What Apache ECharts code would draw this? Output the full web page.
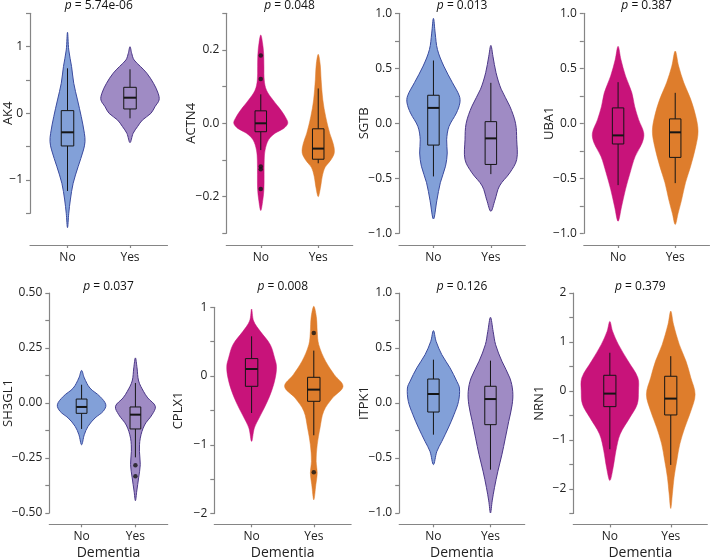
<!DOCTYPE html>
<html><head><meta charset="utf-8">
<script src="https://cdn.jsdelivr.net/npm/echarts@6/dist/echarts.min.js"></script>
<style>html,body{margin:0;padding:0;background:#fff}#c{width:712px;height:558px}</style>
</head><body><div id="c"></div>
<script>
// ---------------- DATA ----------------
const groups = ['No', 'Yes'];
const genes = ['AK4', 'ACTN4', 'SGTB', 'UBA1', 'SH3GL1', 'CPLX1', 'ITPK1', 'NRN1'];
const pValues = ['5.74e-06', '0.048', '0.013', '0.387', '0.037', '0.008', '0.126', '0.379'];
const xTitle = 'Dementia';

// y-axis ranges / ticks: [min, max, tick step, label step, decimals]
const yTicks = [
  [-1.5, 1.5, 0.5, 1, 0],
  [-0.3, 0.3, 0.1, 0.2, 1],
  [-1, 1, 0.25, 0.5, 1],
  [-1, 1, 0.25, 0.5, 1],
  [-0.5, 0.5, 0.125, 0.25, 2],
  [-2, 1, 0.5, 1, 0],
  [-1, 1, 0.25, 0.5, 1],
  [-2.5, 2, 0.5, 1, 0]
];

// box stats: [lower whisker, Q1, median, Q3, upper whisker]
const boxNo = [
  [-1.165, -0.49, -0.285, 0.04, 0.675],
  [-0.073, -0.023, 0.0, 0.034, 0.079],
  [-0.483, -0.198, 0.14, 0.255, 0.571],
  [-0.562, -0.188, -0.11, 0.14, 0.374],
  [-0.118, -0.047, -0.018, 0.018, 0.083],
  [-0.537, -0.149, 0.103, 0.254, 0.578],
  [-0.288, -0.082, 0.082, 0.218, 0.394],
  [-1.19, -0.32, -0.054, 0.32, 0.78]
];
const boxYes = [
  [-0.075, 0.065, 0.234, 0.39, 0.66],
  [-0.109, -0.098, -0.069, -0.015, 0.095],
  [-0.462, -0.374, -0.137, 0.015, 0.368],
  [-0.544, -0.31, -0.082, 0.04, 0.277],
  [-0.247, -0.118, -0.053, -0.018, 0.091],
  [-0.861, -0.367, -0.197, -0.018, 0.37],
  [-0.606, -0.197, 0.036, 0.152, 0.385],
  [-1.51, -0.49, -0.156, 0.3, 0.71]
];
const outliersNo = [[], [0.185, 0.121, -0.118, -0.125, -0.179], [], [], [], [], [], []];
const outliersYes = [[], [], [], [], [-0.283, -0.333], [0.627, -1.40], [], []];

// violin density profiles: [value, half width (in group units)]
const violinNoAK4 = [[1.215,0],[0.95,0.02],[0.7,0.065],[0.45,0.10],[0.2,0.16],[-0.05,0.22],[-0.3,0.27],[-0.425,0.28],[-0.55,0.255],[-0.8,0.17],[-1.05,0.09],[-1.3,0.045],[-1.5,0.02],[-1.715,0]];
const violinYesAK4 = [[1.0,0],[0.9,0.027],[0.8,0.065],[0.7,0.17],[0.6,0.27],[0.45,0.376],[0.3,0.45],[0.2,0.465],[0.1,0.40],[0.0,0.335],[-0.1,0.2],[-0.2,0.12],[-0.3,0.05],[-0.44,0]];
const violinNoACTN4 = [[0.241,0],[0.22,0.03],[0.19,0.05],[0.155,0.055],[0.118,0.06],[0.09,0.1],[0.064,0.21],[0.036,0.35],[0.014,0.44],[0,0.47],[-0.014,0.4],[-0.027,0.25],[-0.045,0.135],[-0.073,0.075],[-0.1,0.06],[-0.14,0.058],[-0.18,0.055],[-0.21,0.035],[-0.238,0]];
const violinYesACTN4 = [[0.188,0],[0.16,0.035],[0.12,0.05],[0.064,0.08],[0.018,0.13],[-0.027,0.2],[-0.055,0.26],[-0.08,0.28],[-0.1,0.22],[-0.12,0.12],[-0.145,0.07],[-0.175,0.04],[-0.2,0]];
const violinNoSGTB = [[0.954,0],[0.82,0.03],[0.67,0.07],[0.52,0.18],[0.37,0.33],[0.25,0.45],[0.185,0.46],[0.094,0.40],[-0.03,0.27],[-0.15,0.23],[-0.27,0.24],[-0.39,0.21],[-0.54,0.12],[-0.7,0.06],[-0.87,0]];
const violinYesSGTB = [[0.708,0],[0.61,0.036],[0.46,0.09],[0.31,0.18],[0.155,0.33],[0,0.43],[-0.15,0.45],[-0.33,0.45],[-0.45,0.33],[-0.57,0.15],[-0.7,0.07],[-0.8,0]];
const violinNoUBA1 = [[0.70,0],[0.58,0.05],[0.43,0.13],[0.28,0.24],[0.155,0.29],[0.033,0.36],[-0.09,0.45],[-0.18,0.42],[-0.3,0.30],[-0.45,0.21],[-0.6,0.13],[-0.76,0.06],[-0.89,0]];
const violinYesUBA1 = [[0.657,0],[0.52,0.06],[0.37,0.15],[0.22,0.27],[0.064,0.36],[-0.073,0.40],[-0.21,0.36],[-0.39,0.27],[-0.54,0.18],[-0.7,0.11],[-0.82,0.05],[-0.92,0]];
const violinNoSH3GL1 = [[0.148,0],[0.114,0.05],[0.068,0.155],[0.03,0.34],[-0.008,0.45],[-0.038,0.40],[-0.068,0.25],[-0.106,0.12],[-0.144,0.05],[-0.19,0]];
const violinYesSH3GL1 = [[0.205,0],[0.16,0.03],[0.1,0.06],[0.053,0.15],[0.023,0.23],[-0.015,0.37],[-0.053,0.31],[-0.1,0.17],[-0.16,0.09],[-0.22,0.075],[-0.28,0.09],[-0.34,0.06],[-0.4,0.025],[-0.444,0]];
const violinNoCPLX1 = [[0.975,0],[0.8,0.033],[0.65,0.14],[0.457,0.30],[0.263,0.37],[0.14,0.40],[-0.028,0.38],[-0.22,0.32],[-0.415,0.23],[-0.61,0.12],[-0.755,0.044],[-0.95,0]];
const violinYesCPLX1 = [[1.015,0],[0.845,0.044],[0.65,0.055],[0.457,0.08],[0.215,0.19],[0.02,0.33],[-0.15,0.47],[-0.32,0.30],[-0.51,0.16],[-0.755,0.1],[-1.0,0.055],[-1.24,0.038],[-1.41,0.055],[-1.58,0.033],[-1.8,0]];
const violinNoITPK1 = [[0.658,0],[0.56,0.047],[0.44,0.146],[0.32,0.29],[0.197,0.41],[0.136,0.456],[0.015,0.44],[-0.106,0.36],[-0.227,0.26],[-0.35,0.146],[-0.44,0.06],[-0.56,0]];
const violinYesITPK1 = [[0.779,0],[0.65,0.047],[0.53,0.09],[0.38,0.2],[0.227,0.34],[0.106,0.39],[-0.015,0.38],[-0.167,0.32],[-0.32,0.26],[-0.47,0.2],[-0.62,0.13],[-0.77,0.07],[-0.89,0.03],[-1.0,0]];
const violinNoNRN1 = [[1.42,0],[1.22,0.045],[0.95,0.14],[0.61,0.30],[0.27,0.46],[0,0.47],[-0.27,0.45],[-0.54,0.33],[-0.88,0.17],[-1.22,0.1],[-1.56,0.055],[-1.83,0]];
const violinYesNRN1 = [[1.63,0],[1.36,0.045],[0.95,0.14],[0.61,0.25],[0.27,0.33],[-0.07,0.40],[-0.41,0.33],[-0.75,0.23],[-1.08,0.15],[-1.42,0.1],[-1.76,0.055],[-2.1,0.027],[-2.4,0]];

const violinsNo = [violinNoAK4, violinNoACTN4, violinNoSGTB, violinNoUBA1, violinNoSH3GL1, violinNoCPLX1, violinNoITPK1, violinNoNRN1];
const violinsYes = [violinYesAK4, violinYesACTN4, violinYesSGTB, violinYesUBA1, violinYesSH3GL1, violinYesCPLX1, violinYesITPK1, violinYesNRN1];

// ---------------- LAYOUT / STYLE ----------------
// [left, top, width, height, xAxisOffset, yNameGap]
const panelLayout = [
  [30, 13.3, 137.5, 200, 31.7, 15.5],
  [226.3, 13.3, 126.4, 220, 11.7, 29],
  [399, 13.3, 126.3, 220, 11.7, 28.4],
  [583.8, 13.3, 125.7, 220, 11.7, 28.4],
  [49.3, 293, 118.4, 220, 11.3, 35],
  [214.3, 307.3, 136.8, 206.3, 10.7, 30],
  [399.2, 293, 125.5, 220, 11.3, 28.4],
  [573.3, 293, 134, 220.4, 11, 28]
];
const FONT = '"Open Sans", "Noto Sans", sans-serif';
const AXIS_COLOR = '#858585';
const TEXT_COLOR = '#222';
const palettes = [
  { no: ['#82a0d8', '#3a4b9f'], yes: ['#9f8bc4', '#4b3787'] },
  { no: ['#c8137a', null], yes: ['#de7d2c', null] }
];

function fmtFactory(k) {
  const [, , , ls, dec] = yTicks[k];
  return function (v) {
    const r = v / ls;
    if (Math.abs(r - Math.round(r)) > 1e-6) return '';
    let s = Math.abs(v).toFixed(dec);
    if (v < -1e-9) s = '\u2212' + s;
    return s;
  };
}

const grids = [], xAxes = [], yAxes = [], series = [], titles = [];
for (let k = 0; k < 8; k++) {
  const [left, top, width, height, xOff, nGap] = panelLayout[k];
  const [ymin, ymax, tstep] = yTicks[k];
  grids.push({ left, top, width, height, containLabel: false, outerBoundsMode: 'none' });
  xAxes.push({
    gridIndex: k, type: 'value', min: -0.6, max: 1.6, offset: xOff,
    axisLine: { show: true, onZero: false, lineStyle: { color: AXIS_COLOR, width: 1.2 } },
    axisTick: { show: true, customValues: [0, 1], length: 3, lineStyle: { color: AXIS_COLOR, width: 1.2 } },
    axisLabel: { show: true, customValues: [0, 1], formatter: v => groups[Math.round(v)] || '', margin: 6.5,
      fontSize: 12, color: TEXT_COLOR, fontFamily: FONT },
    splitLine: { show: false },
    name: k >= 4 ? xTitle : '', nameLocation: 'middle', nameGap: 22, nameMoveOverlap: false,
    nameTextStyle: { fontSize: 14, color: TEXT_COLOR, fontFamily: FONT }
  });
  yAxes.push({
    gridIndex: k, type: 'value', min: ymin, max: ymax, interval: tstep,
    axisLine: { show: true, onZero: false, lineStyle: { color: AXIS_COLOR, width: 1.2 } },
    axisTick: { show: true, length: 4, lineStyle: { color: AXIS_COLOR, width: 1.2 } },
    axisLabel: { formatter: fmtFactory(k), margin: 7, fontSize: 12, color: TEXT_COLOR, fontFamily: FONT },
    splitLine: { show: false },
    name: genes[k], nameLocation: 'middle', nameRotate: 90, nameGap: nGap, nameMoveOverlap: false,
    nameTextStyle: { fontSize: 13, color: TEXT_COLOR, fontFamily: FONT }
  });
  titles.push({
    text: '{i|p} = ' + pValues[k],
    left: left + width / 2, top: k < 4 ? 5.5 : 287, padding: 0,
    textAlign: 'center', textVerticalAlign: 'middle',
    textStyle: { fontSize: 12, fontWeight: 'normal', color: '#111', fontFamily: FONT,
      rich: { i: { fontStyle: 'italic', fontSize: 12, color: '#111', fontFamily: FONT } } }
  });

  const pal = palettes[k % 2];
  [[0, violinsNo[k], pal.no, boxNo[k], outliersNo[k]], [1, violinsYes[k], pal.yes, boxYes[k], outliersYes[k]]]
    .forEach(([g, prof, cols, box, outs]) => {
      const fill = cols[0], stroke = cols[1];
      series.push({
        type: 'custom', xAxisIndex: k, yAxisIndex: k, clip: false, silent: true, z: 2,
        data: [[g, prof[0][0]]],
        renderItem: function (params, api) {
          const pts = [];
          for (let i = 0; i < prof.length; i++) pts.push(api.coord([g + prof[i][1], prof[i][0]]));
          for (let i = prof.length - 2; i >= 1; i--) pts.push(api.coord([g - prof[i][1], prof[i][0]]));
          return { type: 'polygon', shape: { points: pts, smooth: 0.35 },
            style: { fill: fill, stroke: stroke || fill, lineWidth: stroke ? 1 : 0.5 } };
        }
      });
      series.push({
        type: 'custom', xAxisIndex: k, yAxisIndex: k, clip: false, silent: true, z: 3,
        data: [[g, box[2]]],
        renderItem: function (params, api) {
          const hw = 0.1;
          const tl = api.coord([g - hw, box[3]]), br = api.coord([g + hw, box[1]]);
          const cHi = api.coord([g, box[4]]), cQ3 = api.coord([g, box[3]]);
          const cQ1 = api.coord([g, box[1]]), cLo = api.coord([g, box[0]]);
          const mL = api.coord([g - hw, box[2]]), mR = api.coord([g + hw, box[2]]);
          const ls = { stroke: '#151515', lineWidth: 1 };
          return { type: 'group', children: [
            { type: 'line', shape: { x1: cHi[0], y1: cHi[1], x2: cQ3[0], y2: cQ3[1] }, style: ls },
            { type: 'line', shape: { x1: cQ1[0], y1: cQ1[1], x2: cLo[0], y2: cLo[1] }, style: ls },
            { type: 'rect', shape: { x: tl[0], y: tl[1], width: br[0] - tl[0], height: br[1] - tl[1] },
              style: { fill: fill, stroke: '#151515', lineWidth: 1 } },
            { type: 'line', shape: { x1: mL[0], y1: mL[1], x2: mR[0], y2: mR[1] }, style: { stroke: '#151515', lineWidth: 2 } }
          ] };
        }
      });
      if (outs.length) {
        series.push({
          type: 'scatter', xAxisIndex: k, yAxisIndex: k, silent: true, z: 4,
          symbol: 'circle', symbolSize: 4.5, itemStyle: { color: '#151515' },
          data: outs.map(v => [g, v])
        });
      }
    });
}

const chart = echarts.init(document.getElementById('c'), null, { renderer: 'canvas' });
chart.setOption({
  backgroundColor: '#ffffff',
  animation: false,
  title: titles,
  grid: grids,
  xAxis: xAxes,
  yAxis: yAxes,
  series: series
});
</script>
</body></html>
